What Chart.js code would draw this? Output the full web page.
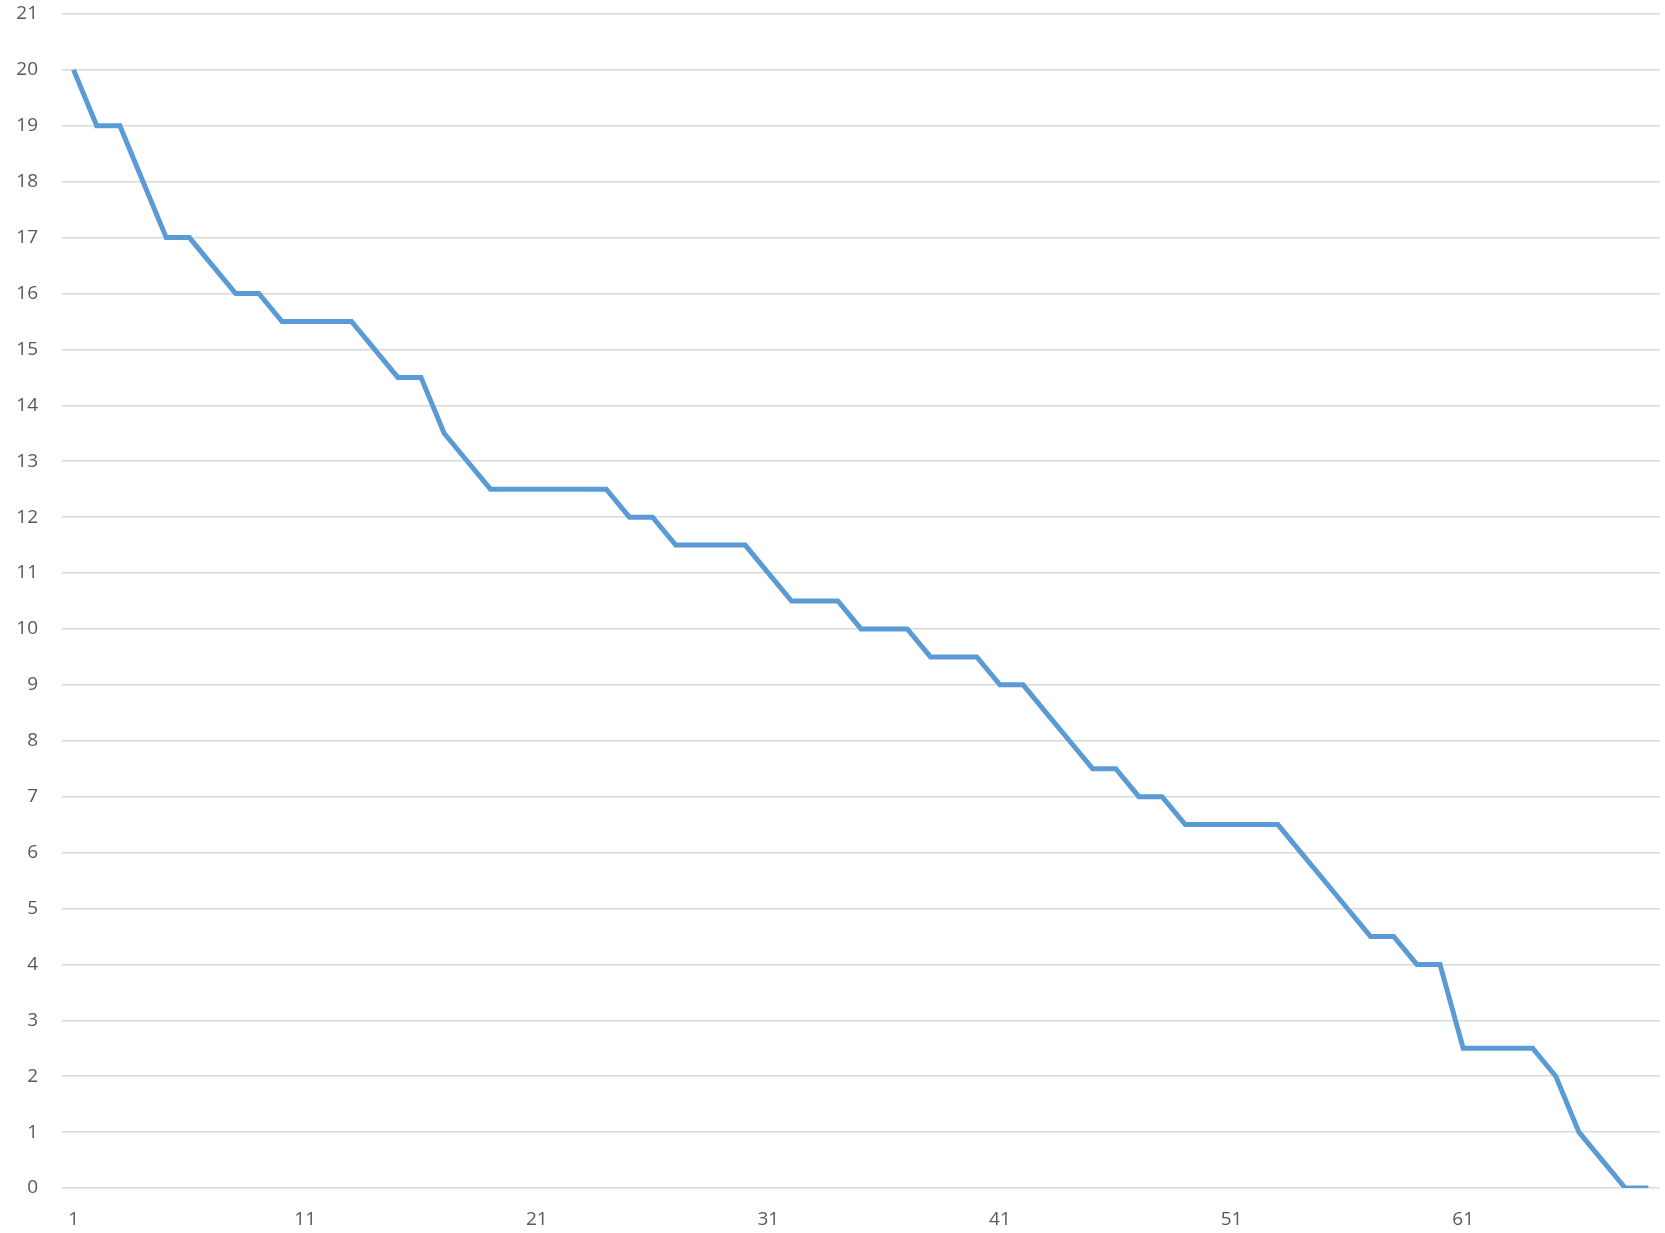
<!DOCTYPE html>
<html>
<head>
<meta charset="utf-8">
<script src="https://cdn.jsdelivr.net/npm/chart.js@4/dist/chart.umd.min.js"></script>
<style>
  html, body { margin: 0; padding: 0; background: #ffffff; }
  #wrap { width: 1665px; height: 1233px; position: relative; }
</style>
</head>
<body>
<div id="wrap"><canvas id="chart"></canvas></div>
<script>
// Category positions 1..69
const categories = Array.from({ length: 69 }, (_, i) => String(i + 1));

// Series values, one per category
const values = [
  20, 19, 19, 18, 17, 17, 16.5, 16, 16, 15.5,
  15.5, 15.5, 15.5, 15, 14.5, 14.5, 13.5, 13, 12.5, 12.5,
  12.5, 12.5, 12.5, 12.5, 12, 12, 11.5, 11.5, 11.5, 11.5,
  11, 10.5, 10.5, 10.5, 10, 10, 10, 9.5, 9.5, 9.5,
  9, 9, 8.5, 8, 7.5, 7.5, 7, 7, 6.5, 6.5,
  6.5, 6.5, 6.5, 6, 5.5, 5, 4.5, 4.5, 4, 4,
  2.5, 2.5, 2.5, 2.5, 2, 1, 0.5, 0, 0
];

// Value axis range
const yMin = 0;
const yMax = 21;
const yStep = 1;

const tickFont = { family: "'Open Sans', 'Liberation Sans', sans-serif", size: 19 };
const tickColor = '#595959';

new Chart(document.getElementById('chart'), {
  type: 'line',
  data: {
    labels: categories,
    datasets: [{
      data: values,
      borderColor: '#5B9BD5',
      backgroundColor: '#5B9BD5',
      borderWidth: 5,
      pointRadius: 0,
      tension: 0,
      fill: false
    }]
  },
  options: {
    responsive: true,
    maintainAspectRatio: false,
    animation: false,
    layout: { padding: { top: 14, right: 5, left: 0, bottom: 0 } },
    plugins: { legend: { display: false }, tooltip: { enabled: false } },
    scales: {
      x: {
        offset: true,
        grid: { display: false, drawTicks: false },
        border: { display: false },
        ticks: {
          autoSkip: false,
          maxRotation: 0,
          minRotation: 0,
          padding: 20,
          color: tickColor,
          font: tickFont,
          callback: (v, i) => (i % 10 === 0 ? categories[i] : null)
        },
        afterFit: (s) => { s.height = 45; }
      },
      y: {
        min: yMin,
        max: yMax,
        grid: { color: '#D9D9D9', lineWidth: 1.5, drawTicks: false },
        border: { display: false },
        ticks: {
          stepSize: yStep,
          padding: 24,
          color: tickColor,
          font: tickFont
        },
        afterFit: (s) => {
          s.width = 62;
          s.paddingTop = 0;
          s.paddingBottom = 0;
        }
      }
    }
  }
});
</script>
</body>
</html>
